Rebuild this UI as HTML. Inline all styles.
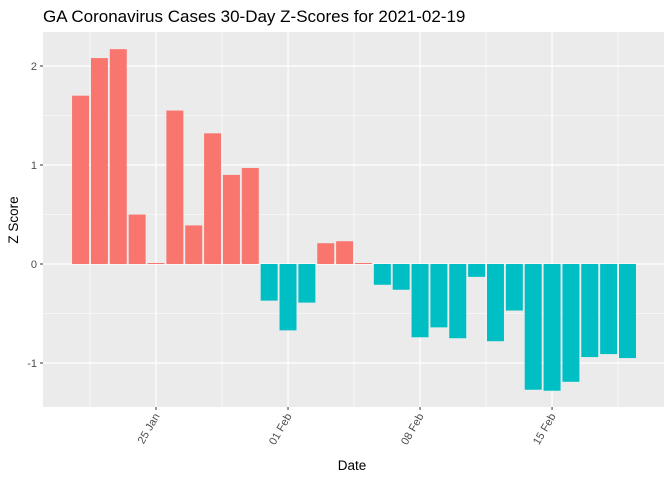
<!DOCTYPE html>
<html><head><meta charset="utf-8"><style>
html,body{margin:0;padding:0;background:#fff;}
svg{display:block;font-family:"Liberation Sans",Arial,sans-serif;}
</style></head><body>
<svg id="chart" width="672" height="480" viewBox="0 0 672 480">
<text x="43" y="22" font-size="17" fill="#000">GA Coronavirus Cases 30-Day Z-Scores for 2021-02-19</text>
<rect x="43" y="32" width="621" height="375" fill="#EBEBEB"/>
<g id="grid"></g><g id="bars"></g><g id="axes"></g>
<text x="352" y="470" font-size="13.5" text-anchor="middle" fill="#000">Date</text>
<text transform="translate(18,220) rotate(-90)" font-size="13.5" text-anchor="middle" fill="#000">Z Score</text>
</svg>
<script>
const dates = ["Jan21","Jan22","Jan23","Jan24","Jan25","Jan26","Jan27","Jan28","Jan29","Jan30","Jan31","Feb01","Feb02","Feb03","Feb04","Feb05","Feb06","Feb07","Feb08","Feb09","Feb10","Feb11","Feb12","Feb13","Feb14","Feb15","Feb16","Feb17","Feb18","Feb19"];
const zScores = [1.70,2.08,2.17,0.50,0.01,1.55,0.39,1.32,0.90,0.97,-0.37,-0.67,-0.39,0.21,0.23,0.01,-0.21,-0.26,-0.74,-0.64,-0.75,-0.13,-0.78,-0.47,-1.27,-1.28,-1.19,-0.94,-0.91,-0.95];
const yTicks = [-1,0,1,2];
const xTickLabels = ["25 Jan","01 Feb","08 Feb","15 Feb"];
const xTickIndex = [4,11,18,25];

const NS="http://www.w3.org/2000/svg";
const L=43,R=664,T=32,B=407;
const dayW=18.86;
function xs(i){return 156+(i-4)*dayW;}
function ys(v){return 264-v*99;}
function mk(tag,attrs,parent){const e=document.createElementNS(NS,tag);for(const k in attrs)e.setAttribute(k,attrs[k]);parent.appendChild(e);return e;}
const grid=document.getElementById('grid'),bars=document.getElementById('bars'),axes=document.getElementById('axes');
// minor y
for(let k=0;k<yTicks.length-1;k++){const v=(yTicks[k]+yTicks[k+1])/2;
 const g=mk('line',{x1:L,x2:R,y1:ys(v),y2:ys(v),stroke:'#fff','stroke-width':0.6},grid);
 
 }
{const v=yTicks[yTicks.length-1]+0.5; if(ys(v)>T){const g=mk('line',{x1:L,x2:R,y1:ys(v),y2:ys(v),stroke:'#fff','stroke-width':0.6},grid);
 
 }}
{const v=yTicks[0]-0.5; if(ys(v)<B){const g=mk('line',{x1:L,x2:R,y1:ys(v),y2:ys(v),stroke:'#fff','stroke-width':0.6},grid);
 
 }}
// minor x
for(let k=-1;k<xTickIndex.length;k++){const i=(k<0?xTickIndex[0]-3.5:xTickIndex[k]+3.5);const x=xs(i);
 if(x>L&&x<R){const g=mk('line',{x1:x,x2:x,y1:T,y2:B,stroke:'#fff','stroke-width':0.6},grid);
 
 }}
// major
yTicks.forEach(v=>{const y=ys(v);
 const g=mk('line',{x1:L,x2:R,y1:y,y2:y,stroke:'#fff','stroke-width':1.2},grid);
 
 
 const t=mk('line',{x1:L-3,x2:L,y1:y,y2:y,stroke:'#333','stroke-width':1},axes);
 
 
 const l=mk('text',{x:L-6,y:y+4,'font-size':11,'text-anchor':'end',fill:'#4D4D4D'},axes);l.textContent=v;
 
 });
xTickIndex.forEach((i,k)=>{const x=xs(i);
 const g=mk('line',{x1:x,x2:x,y1:T,y2:B,stroke:'#fff','stroke-width':1.2},grid);
 
 
 const t=mk('line',{x1:x,x2:x,y1:B,y2:B+3,stroke:'#333','stroke-width':1},axes);
 
 
 const l=mk('text',{transform:`translate(${x+4},${B+9}) rotate(-60)`,'font-size':11,'text-anchor':'end',fill:'#4D4D4D'},axes);l.textContent=xTickLabels[k];
 
 });
// bars
zScores.forEach((v,i)=>{const w=dayW*0.9;const y0=ys(0),y1=ys(v);
 const b=mk('rect',{x:xs(i)-w/2,y:Math.min(y0,y1),width:w,height:Math.max(Math.abs(y1-y0),0.5),fill:v>=0?'#F8766D':'#00BFC4'},bars);
 
 });
</script>
</body></html>
